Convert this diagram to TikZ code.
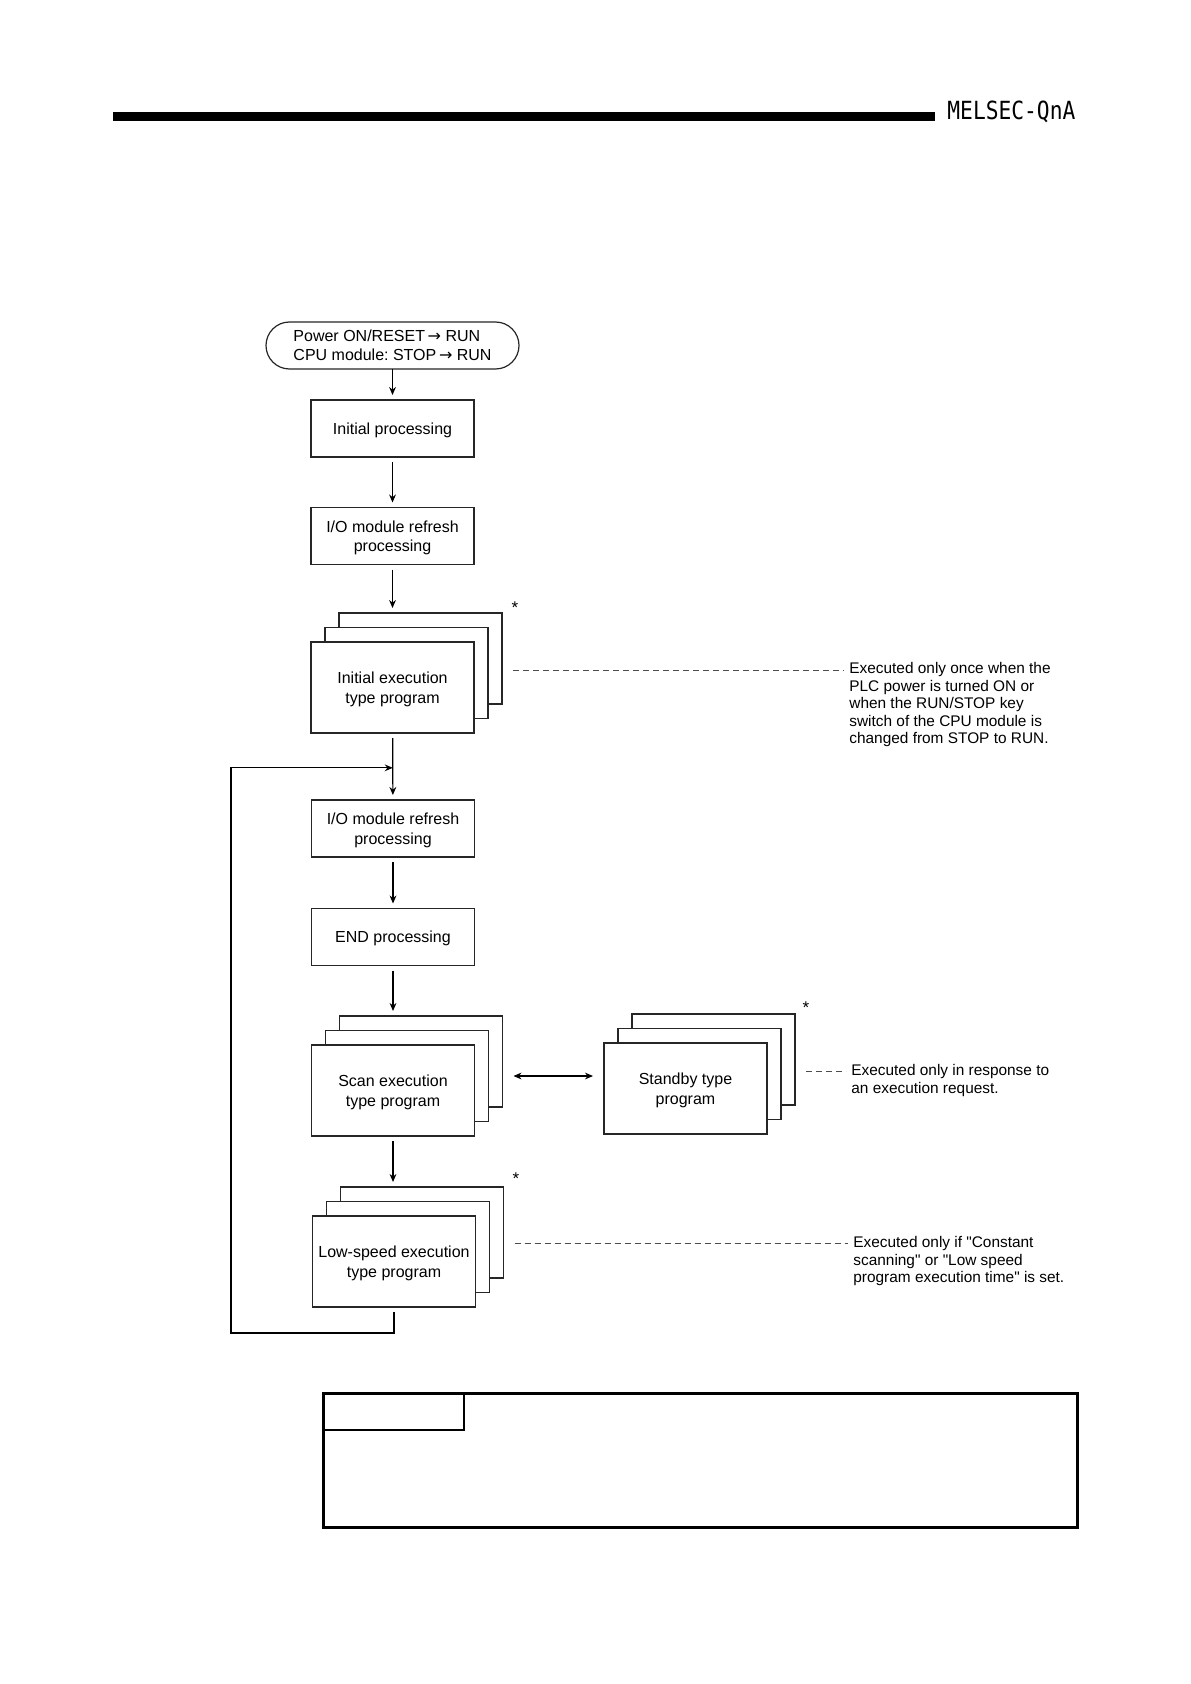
\documentclass[tikz,border=0pt]{standalone}
\usepackage{fontspec}
\setmainfont{Liberation Sans}[Ligatures=TeXOff]
\newfontfamily\arrowfont{DejaVu Sans}
\newfontfamily\brandfont{DejaVu Sans Mono}
\usepackage{graphicx}
\usetikzlibrary{calc, arrows.meta}

\begin{document}
\frenchspacing
\begin{tikzpicture}[x=0.5pt, y=-0.5pt,
    box/.style={draw=black!85, line width=0.6pt, fill=white, minimum width=81.5pt,
      minimum height=28.5pt, inner sep=1pt, outer sep=0pt, align=center,
      text depth=0pt, font=\fontsize{8}{9.7}\selectfont},
    prog/.style={box, minimum height=45.5pt},
    term/.style={box, minimum width=126.5pt, minimum height=23.5pt,
      rounded corners=11.75pt, align=left},
    flow/.style={-{Stealth[length=4pt,width=3.4pt]}, line width=0.6pt,
      shorten <=2.5pt, shorten >=2.5pt},
    dbl/.style={flow, {Stealth[length=4pt,width=3.4pt]}-{Stealth[length=4pt,width=3.4pt]},
      shorten <=5.5pt, shorten >=5.5pt},
    note/.style={anchor=north west, inner sep=0pt, align=left,
      font=\fontsize{7.7}{8.8}\selectfont},
    lead/.style={dash pattern=on 3pt off 2pt, line width=0.5pt, draw=black!70,
      shorten >=2.5pt},
    star/.style={inner sep=0pt, font=\fontsize{8.5}{8.5}\selectfont}]
  \useasboundingbox (0,0) rectangle (1190,1684);

  % page header
  \draw[line width=4.5pt] (113,116.5) -- (935,116.5);
  \node[anchor=base west, inner sep=0pt] (brand) at (947,120)
    {\brandfont\fontsize{12.5}{14}\selectfont\scalebox{0.85}[1]{MELSEC-QnA}};

  % main flow
  \node[term] (start) at (392.5,345.5)
    {Power ON/RESET\,{\arrowfont →} RUN\\CPU module: STOP\,{\arrowfont →} RUN};
  \node[box] (init) at (392.5,428.5) {Initial processing};
  \node[box] (io1) at (392.5,536) {I/O module refresh\\processing};

  \node[prog] (ieB) at (420.5,658.5) {};
  \node[prog] (ieM) at (406.5,673) {};
  \node[prog] (ieF) at (392.5,687.5) {Initial execution\\type program};
  \node[star] (ieS) at (515,608) {*};

  \node[box] (io2) at (393,828.5) {I/O module refresh\\processing};
  \node[box] (endp) at (393,937) {END processing};

  \node[prog] (scanB) at (421,1061.5) {};
  \node[prog] (scanM) at (407,1076) {};
  \node[prog] (scanF) at (393,1090.5) {Scan execution\\type program};

  \node[prog] (sbyB) at (713.5,1059.5) {};
  \node[prog] (sbyM) at (699.5,1074) {};
  \node[prog] (sbyF) at (685.5,1088.5) {Standby type\\program};
  \node[star] (sbyS) at (806,1007.5) {*};

  \node[prog] (lowB) at (422,1232.5) {};
  \node[prog] (lowM) at (408,1247) {};
  \node[prog] (lowF) at (394,1261.5) {Low-speed execution\\type program};
  \node[star] (lowS) at (516,1178.5) {*};

  % notes
  \node[note] (n1) at (849,662) {Executed only once when the\\PLC power is turned ON or\\when the RUN/STOP key\\switch of the CPU module is\\changed from STOP to RUN.};
  \node[note] (n2) at (851,1064) {Executed only in response to\\an execution request.};
  \node[note] (n3) at (853,1236) {Executed only if "Constant\\scanning" or "Low speed\\program execution time" is set.};

  % arrows
  \draw[flow, shorten <=0pt] (start) -- (init);
  \draw[flow] (init) -- (io1);
  \draw[flow] (io1) -- (io1 |- ieB.north);
  \draw[flow] (ieF) -- (io2);
  \draw[flow] (io2) -- (endp);
  \draw[flow] (endp) -- (endp |- scanB.north);
  \draw[flow] (scanF) -- (scanF |- lowB.north);
  \draw[dbl] (scanB.east |- scanM) -- (sbyF.west |- scanM);

  % loop back
  \coordinate (join) at ($(ieF.south)!0.52!(io2.north)$);
  \coordinate (lpL) at (231,1333);
  \draw[flow, shorten >=0pt] (lowF.south) |- (lpL) |- (join);

  % leaders to notes
  \coordinate (d1) at ([shift={(11,11.5)}]ieB.east);
  \coordinate (d2) at ([shift={(11,11.5)}]sbyB.east);
  \coordinate (d3) at ([shift={(11,10.5)}]lowB.east);
  \draw[lead] (d1) -- (d1 -| n1.west);
  \draw[lead] (d2) -- (d2 -| n2.west);
  \draw[lead] (d3) -- (d3 -| n3.west);

  % frame at the foot
  \draw[line width=1.5pt] (323,1393) rectangle (1077,1527);
  \draw[line width=1pt] (323,1430) -| (464,1393);
\end{tikzpicture}
\end{document}
